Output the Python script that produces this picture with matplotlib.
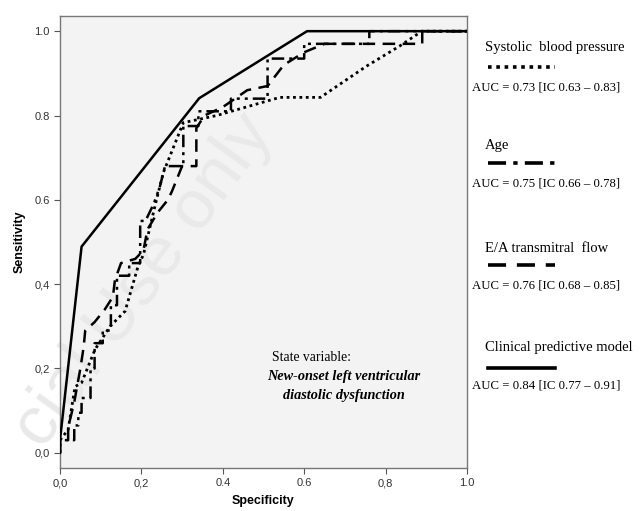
import matplotlib
matplotlib.use("Agg")
import matplotlib.pyplot as plt

# ROC curves (x = specificity axis as labelled, y = sensitivity)
clin_x = [0.0, 0.0, 0.053, 0.342, 0.607, 1.0]
clin_y = [0.0, 0.03, 0.489, 0.841, 1.0, 1.0]

sbp_x = [0.0, 0.0, 0.02, 0.037, 0.053, 0.086, 0.123, 0.16, 0.192, 0.205, 0.237, 0.254,
         0.303, 0.385, 0.54, 0.64, 0.753, 0.835, 0.889, 1.0]
sbp_y = [0.0, 0.03, 0.055, 0.157, 0.166, 0.245, 0.30, 0.336, 0.443, 0.47, 0.60, 0.665,
         0.783, 0.80, 0.843, 0.843, 0.917, 0.965, 1.0, 1.0]

age_x = [0.0, 0.0, 0.035, 0.035, 0.045, 0.045, 0.053, 0.053, 0.075, 0.075, 0.085, 0.085,
         0.105, 0.105, 0.125, 0.125, 0.14, 0.14, 0.17, 0.17, 0.197, 0.197, 0.21, 0.23,
         0.245, 0.258, 0.303, 0.303, 0.34, 0.34, 0.42, 0.42, 0.51, 0.51, 0.6, 0.6,
         0.76, 0.76, 1.0]
age_y = [0.0, 0.03, 0.03, 0.065, 0.065, 0.095, 0.095, 0.13, 0.13, 0.2, 0.2, 0.26,
         0.26, 0.29, 0.29, 0.35, 0.35, 0.42, 0.42, 0.45, 0.45, 0.55, 0.55, 0.59,
         0.63, 0.68, 0.68, 0.775, 0.775, 0.81, 0.81, 0.84, 0.84, 0.935, 0.935, 0.97,
         0.97, 1.0, 1.0]

ea_x = [0.0, 0.0, 0.02, 0.02, 0.035, 0.05, 0.058, 0.062, 0.085, 0.11, 0.13, 0.135,
        0.15, 0.185, 0.205, 0.215, 0.24, 0.265, 0.275, 0.3, 0.335, 0.335, 0.355, 0.4,
        0.46, 0.51, 0.55, 0.6, 0.65, 0.89, 0.89, 1.0]
ea_y = [0.0, 0.03, 0.03, 0.06, 0.12, 0.2, 0.25, 0.29, 0.31, 0.34, 0.37, 0.41,
        0.45, 0.46, 0.48, 0.53, 0.57, 0.60, 0.62, 0.68, 0.68, 0.77, 0.80, 0.82,
        0.86, 0.87, 0.92, 0.95, 0.97, 0.97, 1.0, 1.0]

ticks = [0.0, 0.2, 0.4, 0.6, 0.8, 1.0]
xlabels = ["0,0", "0,2", "0.4", "0.6", "0,8", "1.0"]
ylabels = ["0,0", "0,2", "0,4", "0.6", "0.8", "1.0"]

names = ["Systolic  blood pressure", "Age", "E/A transmitral  flow", "Clinical predictive model"]
aucs = ["AUC = 0.73 [IC 0.63 \u2013 0.83]", "AUC = 0.75 [IC 0.66 \u2013 0.78]",
        "AUC = 0.76 [IC 0.68 \u2013 0.85]", "AUC = 0.84 [IC 0.77 \u2013 0.91]"]

dot_ls = (0, (1, 1.3))
age_ls = (0, (5, 2, 1.2, 2, 5, 2, 1.2, 2, 1.2, 2))
ea_ls = (0, (5, 3))
styles = [dot_ls, age_ls, ea_ls, "-"]

W, H = 643, 511
fig = plt.figure(figsize=(W / 100, H / 100), dpi=100)
ax = fig.add_axes([60 / W, 1 - 468 / H, 407 / W, 452 / H])
ax.set_facecolor("#f3f3f3")

# faint watermark
ax.text(28 / W, 1 - 440 / H, "cial Use only", transform=fig.transFigure,
        rotation=54, rotation_mode="anchor", ha="left", va="center",
        fontsize=50, family="Liberation Sans", color="#e9e9e9", zorder=1, clip_on=False)

lw = 1.8
ax.plot(sbp_x, sbp_y, color="black", lw=2.0, ls=dot_ls, zorder=3)
ax.plot(age_x, age_y, color="black", lw=lw, ls=age_ls, zorder=3)
ax.plot(ea_x, ea_y, color="black", lw=lw, ls=ea_ls, zorder=3)
ax.plot(clin_x, clin_y, color="black", lw=lw, zorder=4)

ax.set_xlim(0, 1)
ax.set_ylim(-0.036, 1.036)
ax.set_xticks(ticks)
ax.set_xticklabels(xlabels)
ax.set_yticks(ticks)
ax.set_yticklabels(ylabels)
ax.tick_params(direction="out", length=4, width=0.8, color="#555555",
               labelsize=8, labelcolor="#333333")
for t in ax.get_xticklabels() + ax.get_yticklabels():
    t.set_family("Liberation Sans")
for s in ax.spines.values():
    s.set_color("#777777")
    s.set_linewidth(1.0)

ax.set_xlabel("Specificity", family="Liberation Sans", fontweight="bold", fontsize=9, labelpad=5)
ax.set_ylabel("Sensitivity", family="Liberation Sans", fontweight="bold", fontsize=9, labelpad=6)

ax.text(0.52, 0.226, "State variable:", family="Liberation Serif", fontsize=9.8, va="center")
ax.text(0.698, 0.18, "New-onset left ventricular", family="Liberation Serif", fontsize=10.3,
        fontweight="bold", fontstyle="italic", ha="center", va="center")
ax.text(0.698, 0.135, "diastolic dysfunction", family="Liberation Serif", fontsize=10.3,
        fontweight="bold", fontstyle="italic", ha="center", va="center")

# legend on the right
name_y = [47, 145, 248, 348]
line_y = [67, 163, 265, 368]
auc_y = [88, 184, 285, 386]
for i in range(4):
    fig.text(485 / W, 1 - name_y[i] / H, names[i], family="Liberation Serif",
             fontsize=10.5, va="center")
    fig.add_artist(plt.Line2D([488 / W, 555 / W], [1 - line_y[i] / H] * 2,
                              transform=fig.transFigure, color="black", lw=2.6,
                              ls=styles[i]))
    fig.text(472 / W, 1 - auc_y[i] / H, aucs[i], family="Liberation Serif",
             fontsize=9.2, va="center")

fig.savefig("out.png", dpi=100)
